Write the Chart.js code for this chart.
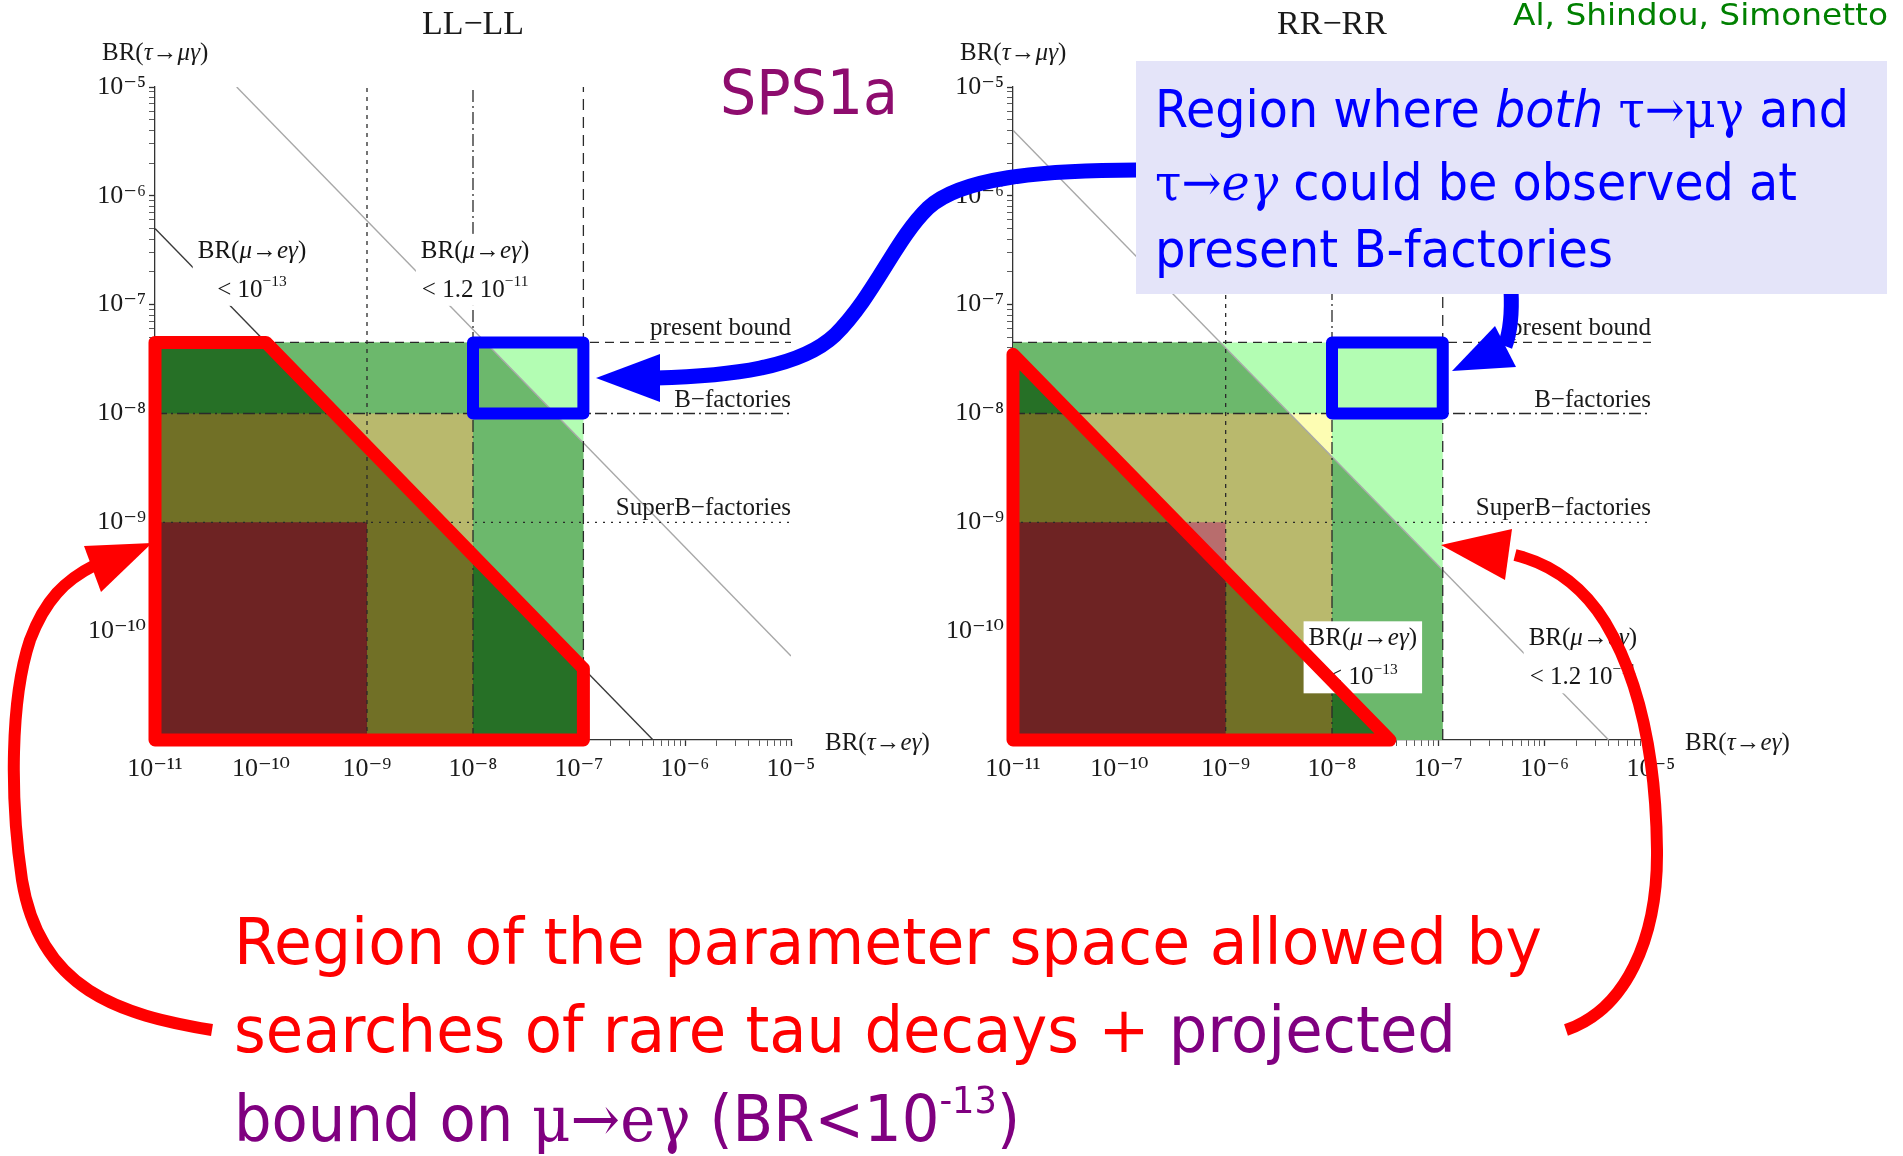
<!DOCTYPE html>
<html>
<head>
<meta charset="utf-8">
<script src="https://cdn.jsdelivr.net/npm/chart.js@4.4.1/dist/chart.umd.min.js"></script>
<style>
  html, body { margin: 0; padding: 0; background: #fff; }
  #stage { position: relative; width: 1903px; height: 1156px; overflow: hidden; }
  #stage canvas, #stage svg { position: absolute; left: 0; top: 0; }
</style>
</head>
<body>
<div id="stage">
  <canvas id="llChart" width="1903" height="1156"></canvas>
  <canvas id="rrChart" width="1903" height="1156"></canvas>
  <svg width="1903" height="1156" viewBox="0 0 1903 1156">
    <!-- blue arrows -->
    <g fill="none" stroke="#0000ff" stroke-width="15">
      <path d="M1137,170 C1040,170 960,178 928,208 C895,240 875,295 835,335 C800,368 730,376 656,378"/>
      <path d="M1511,290 C1512,310 1511,330 1505,346"/>
    </g>
    <polygon fill="#0000ff" points="596,378 660,354 660,402"/>
    <polygon fill="#0000ff" points="1452,371 1495,326 1516,367"/>
    <!-- red arrows -->
    <g fill="none" stroke="#ff0000" stroke-width="12">
      <path d="M212,1030 C120,1015 40,990 22,880 C10,800 10,700 30,640 C45,600 65,580 95,565"/>
      <path d="M1566,1030 C1625,1010 1658,940 1657,850 C1656,760 1640,680 1605,622 C1585,590 1555,565 1515,555"/>
    </g>
    <polygon fill="#ff0000" points="152,543 84,546 101,592"/>
    <polygon fill="#ff0000" points="1441,545 1512,529 1505,580"/>

    <!-- blue note box -->
    <rect x="1136" y="61" width="751" height="233" fill="#e4e4f9"/>
    <g fill="#0000ff" font-family="DejaVu Sans" font-size="51">
      <text x="1155" y="127" textLength="694" lengthAdjust="spacingAndGlyphs">Region where <tspan font-style="italic">both</tspan> <tspan font-family="DejaVu Serif">τ→μγ</tspan> and</text>
      <text x="1155" y="200" textLength="642" lengthAdjust="spacingAndGlyphs"><tspan font-family="DejaVu Serif">τ→<tspan font-style="italic">eγ</tspan></tspan> could be observed at</text>
      <text x="1155" y="267" textLength="458" lengthAdjust="spacingAndGlyphs">present B-factories</text>
    </g>

    <text x="720" y="114" fill="#8e0c6e" font-family="DejaVu Sans" font-size="62" textLength="178" lengthAdjust="spacingAndGlyphs">SPS1a</text>
    <text x="1513" y="25" fill="#008000" font-family="DejaVu Sans" font-size="31" textLength="375" lengthAdjust="spacingAndGlyphs">Al, Shindou, Simonetto</text>

    <!-- red / purple caption -->
    <g font-family="DejaVu Sans" font-size="64">
      <text x="234" y="964" fill="#ff0000" textLength="1308" lengthAdjust="spacingAndGlyphs">Region of the parameter space allowed by</text>
      <text x="234" y="1052" fill="#ff0000" textLength="1222" lengthAdjust="spacingAndGlyphs">searches of rare tau decays + <tspan fill="#800080">projected</tspan></text>
      <text x="234" y="1141" fill="#800080" textLength="786" lengthAdjust="spacingAndGlyphs">bound on <tspan font-family="DejaVu Serif">μ→eγ</tspan> (BR&lt;10<tspan font-size="38" dy="-28">-13</tspan><tspan dy="28">)</tspan></text>
    </g>
  </svg>
</div>
<script>
// ---- values ----
const decades = [-11, -10, -9, -8, -7, -6, -5];        // axis range, powers of ten
// bounds on BR(τ→eγ) (x) and BR(τ→μγ) (y): present, B-factories, SuperB-factories
const tauEBounds = [1.1e-7, 1e-8, 1e-9];
const tauMuBounds = [4.5e-8, 1e-8, 1e-9];
const boundNames = ["present bound", "B\u2212factories", "SuperB\u2212factories"];
// μ→eγ contours, BR(τ→eγ)·BR(τ→μγ) = const, for BR(μ→eγ) < 1.2e-11 and < 1e-13
const llContour = [5.9e-16, 5e-18];
const rrContour = [4e-17, 3.5e-19];

const colors = {
    light: "#b3fdb3", pale: "#fdfdb3", mid: "#6cb86c", khaki: "#b9b96d",
    pink: "#b86d6d", dark: "#267026", olive: "#717026", maroon: "#6e2323"
};
const SERIF = '"Liberation Serif", "DejaVu Serif", serif';
const lo = 10 ** decades[0], hi = 10 ** decades[decades.length - 1];

// box [lo,X]x[lo,Y]
const box = (X, Y) => [{x: lo, y: lo}, {x: lo, y: Y}, {x: X, y: Y}, {x: X, y: lo}, {x: lo, y: lo}];
// part of box [lo,X]x[lo,Y] under the contour x*y = c
function below(X, Y, c) {
    const pts = [{x: lo, y: lo}, {x: lo, y: Math.min(Y, c / lo)}];
    if (c / lo > Y) pts.push({x: Math.min(X, c / Y), y: Y});
    if (c / X > lo) {
        if (c / Y < X) pts.push({x: X, y: Math.min(Y, c / X)});
        pts.push({x: X, y: lo});
    } else {
        pts.push({x: c / lo, y: lo});
    }
    pts.push({x: lo, y: lo});
    return pts;
}
function contourEnds(c) {
    const x0 = Math.max(lo, c / hi), y1 = Math.max(lo, c / hi);
    return [{x: x0, y: c / x0}, {x: c / y1, y: y1}];
}

function buildSets(contour) {
    const [xP, xB, xS] = tauEBounds, [yP, yB, yS] = tauMuBounds;
    const [c12, c13] = contour;
    const sets = []; // in painting order
    const area = (pts, color) => sets.push({
        data: pts, showLine: true, fill: "shape", backgroundColor: color,
        borderColor: "rgba(0,0,0,0)", borderWidth: 1, pointRadius: 0
    });
    const line = (pts, color, width, dash, extra) => sets.push(Object.assign({
        data: pts, showLine: true, fill: false, borderColor: color, borderWidth: width,
        borderDash: dash || [], pointRadius: 0
    }, extra || {}));

    area(box(xP, yP), colors.light);
    area(box(xB, yB), colors.pale);
    area(below(xP, yP, c12), colors.mid);
    area(below(xB, yB, c12), colors.khaki);
    area(box(xS, yS), colors.pink);
    area(below(xP, yP, c13), colors.dark);
    area(below(xB, yB, c13), colors.olive);
    area(below(xS, yS, c13), colors.maroon);

    line(contourEnds(c12), "#a8a8a8", 1.4);
    line(contourEnds(c13), "#3a3a3a", 1.4);

    const yDashes = [[9, 6], [12, 4, 2, 4], [2, 6]];
    const xDashes = [[11, 7], [12, 4, 2, 4], [4, 5]];
    tauMuBounds.forEach((v, i) => line([{x: lo, y: v}, {x: hi, y: v}], "#2a2a2a", 1.4, yDashes[i]));
    tauEBounds.forEach((v, i) => line([{x: v, y: lo}, {x: v, y: hi}], "#2a2a2a", 1.3, xDashes[i]));

    line(below(xP, yP, c13), "#ff0000", 13, null,
        {clip: false, borderJoinStyle: "round", borderCapStyle: "round", outline: true});
    line([{x: xB, y: yB}, {x: xB, y: yP}, {x: xP, y: yP}, {x: xP, y: yB}, {x: xB, y: yB}], "#0000ff", 12, null,
        {clip: false, borderJoinStyle: "round", borderCapStyle: "round"});
    return sets;
}

// ---- text helpers ----
function drawRich(ctx, parts, x, y, size, align) {
    let w = 0;
    const ms = parts.map(p => {
        const s = p.sup ? size * 0.62 : size;
        const f = (p.it ? "italic " : "") + s + "px " + SERIF;
        ctx.font = f;
        const m = ctx.measureText(p.t).width;
        w += m;
        return {f, m};
    });
    if (align === "measure") return w;
    let cx = align === "center" ? x - w / 2 : align === "right" ? x - w : x;
    ctx.textAlign = "left";
    ctx.textBaseline = "alphabetic";
    parts.forEach((p, i) => {
        ctx.font = ms[i].f;
        ctx.fillText(p.t, cx, p.sup ? y - size * 0.42 : y);
        cx += ms[i].m;
    });
    return w;
}
const brMuE = [{t: "BR("}, {t: "μ", it: 1}, {t: "→"}, {t: "e", it: 1}, {t: "γ", it: 1}, {t: ")"}];
const brTauMu = [{t: "BR("}, {t: "τ", it: 1}, {t: "→"}, {t: "μγ", it: 1}, {t: ")"}];
const brTauE = [{t: "BR("}, {t: "τ", it: 1}, {t: "→"}, {t: "eγ", it: 1}, {t: ")"}];
const lt13 = [{t: "< 10"}, {t: "\u221213", sup: 1}];
const lt12 = [{t: "< 1.2 10"}, {t: "\u221211", sup: 1}];

function slidePlugin(cfg) {
    return {
        id: "slide",
        beforeDatasetDraw(chart, args) {
            if (!chart.data.datasets[args.index].outline) return;
            const {ctx, scales: {x, y}} = chart;
            ctx.save();
            cfg.notes.forEach(n => {
                const cx = x.getPixelForValue(10 ** n.at[0]);
                const by = y.getPixelForValue(10 ** n.at[1]);
                const w = Math.max(...n.lines.map(l => drawRich(ctx, l, 0, 0, 25, "measure")));
                ctx.fillStyle = "#fff";
                ctx.fillRect(cx - w / 2 - 5, by - 24, w + 10, 39 + 33);
                ctx.fillStyle = "#151515";
                n.lines.forEach((l, i) => drawRich(ctx, l, cx, by + i * 39, 25, "center"));
            });
            ctx.restore();
        },
        afterDraw(chart) {
            const {ctx, chartArea: a, scales: {y}} = chart;
            ctx.save();
            ctx.fillStyle = "#1a1a1a";
            drawRich(ctx, [{t: cfg.title}], (a.left + a.right) / 2, a.top - 53, 34, "center");
            drawRich(ctx, brTauMu, a.left - 53, a.top - 27, 25, "left");
            drawRich(ctx, brTauE, a.right + 34, a.bottom + 10, 25, "left");
            tauMuBounds.forEach((v, i) =>
                drawRich(ctx, [{t: boundNames[i]}], a.right, y.getPixelForValue(v) - 7, 25, "right"));
            ctx.restore();
        }
    };
}

// ---- axes ----
const SUP = {"-": "\u207b", "0": "\u2070", "1": "\u00b9", "2": "\u00b2", "3": "\u00b3", "4": "\u2074",
    "5": "\u2075", "6": "\u2076", "7": "\u2077", "8": "\u2078", "9": "\u2079"};
const powLabel = n => "10" + String(n).split("").map(ch => SUP[ch]).join("");
const tickValues = decades.flatMap((n, i) =>
    i === decades.length - 1 ? [10 ** n] : [1, 2, 3, 4, 5, 6, 7, 8, 9].map(m => m * 10 ** n));
const decadeOf = v => {
    const l = Math.log10(v), n = Math.round(l);
    return Math.abs(l - n) < 1e-6 ? n : null;
};

function axis(dir) {
    return {
        type: "logarithmic",
        min: lo,
        max: hi,
        position: dir === "x" ? "bottom" : "left",
        afterBuildTicks: scale => { scale.ticks = tickValues.map(v => ({value: v})); },
        afterFit: scale => {
            if (dir === "x") scale.height = 50; else scale.width = 70;
        },
        border: {display: true, color: "#333", width: 1.3},
        grid: {
            drawOnChartArea: false, drawTicks: true, tickLength: 6, color: "#333",
            tickWidth: c => (c.tick && decadeOf(c.tick.value) !== null ? 1.3 : 0.8)
        },
        ticks: {
            autoSkip: false, maxRotation: 0, color: "#1a1a1a", padding: dir === "x" ? 8 : 3,
            font: {family: SERIF, size: 26},
            callback: v => {
                const n = decadeOf(v);
                if (n === null) return "";
                if (dir === "y" && n === decades[0]) return "";
                return powLabel(n);
            }
        }
    };
}

function makeChart(id, title, contour, notes, pad) {
    const sets = buildSets(contour);
    return new Chart(document.getElementById(id), {
        type: "scatter",
        data: {datasets: sets.slice().reverse()},
        options: {
            responsive: false,
            animation: false,
            events: [],
            layout: {padding: pad},
            elements: {point: {radius: 0}, line: {tension: 0}},
            plugins: {legend: {display: false}, tooltip: {enabled: false}},
            scales: {x: axis("x"), y: axis("y")}
        },
        plugins: [slidePlugin({title, notes})]
    });
}

makeChart("llChart", "LL\u2212LL", llContour, [
    {at: [-10.085, -6.57], lines: [brMuE, lt13]},
    {at: [-7.98, -6.57], lines: [brMuE, lt12]}
], {left: 85, top: 87, right: 1112, bottom: 366});

makeChart("rrChart", "RR\u2212RR", rrContour, [
    {at: [-7.71, -10.13], lines: [brMuE, lt13]},
    {at: [-5.64, -10.13], lines: [brMuE, lt12]}
], {left: 943, top: 87, right: 252, bottom: 366});
</script>
</body>
</html>
